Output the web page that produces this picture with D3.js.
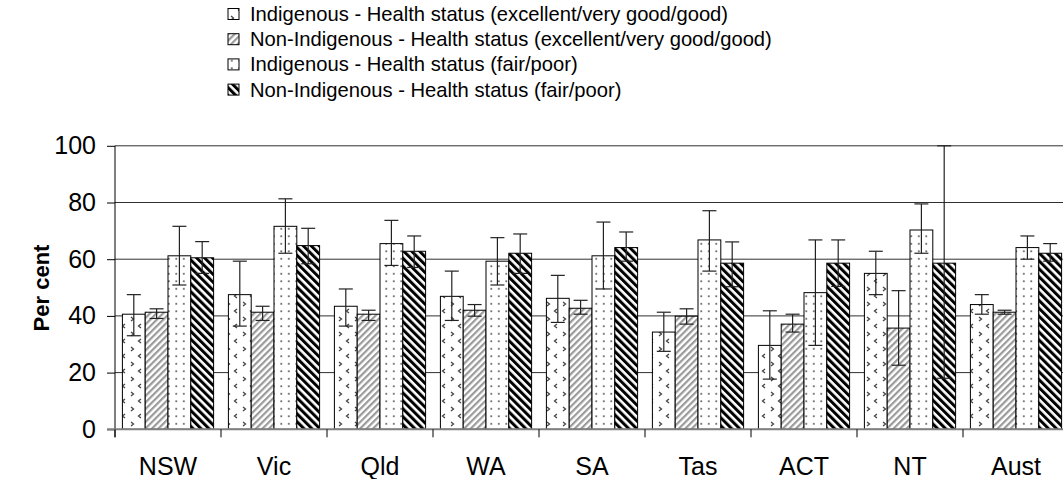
<!DOCTYPE html>
<html>
<head>
<meta charset="utf-8">
<script src="https://cdn.jsdelivr.net/npm/d3@7"></script>
<style>
  body { margin: 0; background: #fff; }
  svg { display: block; font-family: "Liberation Sans", Arial, sans-serif; }
</style>
</head>
<body>
<div id="chart"></div>
<script>
// categories and series
const states = ['NSW', 'Vic', 'Qld', 'WA', 'SA', 'Tas', 'ACT', 'NT', 'Aust'];
const seriesNames = [
  'Indigenous - Health status (excellent/very good/good)',
  'Non-Indigenous - Health status (excellent/very good/good)',
  'Indigenous - Health status (fair/poor)',
  'Non-Indigenous - Health status (fair/poor)'
];

// values and error bar ends (per cent)
const indigGood      = [40.6, 47.5, 43.4, 46.9, 46.2, 34.3, 29.6, 55.0, 44.0];
const indigGoodHi    = [47.5, 59.3, 49.5, 55.8, 54.3, 41.3, 41.8, 62.8, 47.5];
const indigGoodLo    = [33.0, 36.4, 36.4, 38.4, 37.7, 27.5, 17.7, 47.5, 40.6];
const nonIndigGood   = [41.3, 41.3, 40.6, 42.0, 42.7, 39.9, 37.1, 35.7, 41.3];
const nonIndigGoodHi = [42.5, 43.4, 42.0, 44.0, 45.5, 42.5, 40.6, 48.9, 42.0];
const nonIndigGoodLo = [39.1, 38.4, 38.4, 39.9, 40.6, 37.1, 34.3, 22.6, 40.6];
const indigFair      = [61.2, 71.6, 65.5, 59.3, 61.2, 66.8, 48.2, 70.3, 64.1];
const indigFairHi    = [71.6, 81.3, 73.7, 67.6, 73.1, 77.1, 66.8, 79.5, 68.2];
const indigFairLo    = [50.9, 62.1, 57.8, 50.9, 49.5, 55.8, 29.6, 62.1, 60.0];
const nonIndigFair   = [60.5, 64.8, 62.8, 62.1, 64.1, 58.6, 58.6, 58.6, 62.1];
const nonIndigFairHi = [66.2, 70.9, 68.2, 68.9, 69.6, 66.1, 66.8, 100, 65.5];
const nonIndigFairLo = [55.0, 58.4, 57.1, 55.0, 59.3, 50.3, 50.4, 18.0, 59.3];

const yTicks = [0, 20, 40, 60, 80, 100];

{ // start block scope

  const values = [indigGood, nonIndigGood, indigFair, nonIndigFair];
  const highs = [indigGoodHi, nonIndigGoodHi, indigFairHi, nonIndigFairHi];
  const lows = [indigGoodLo, nonIndigGoodLo, indigFairLo, nonIndigFairLo];

  const rows = [];
  states.forEach((s, i) => {
    seriesNames.forEach((n, k) => {
      rows.push({ state: s, series: k, v: values[k][i], hi: highs[k][i], lo: lows[k][i] });
    });
  });

  // constants
  const totalWidth = 1063;
  const totalHeight = 479;
  const plot = { left: 115, right: 1069, top: 145.8, bottom: 429.3 };

  const svg = d3.select('#chart')
    .append('svg')
    .attr('width', totalWidth)
    .attr('height', totalHeight);

  // patterns
  const defs = svg.append('defs');

  const p0 = defs.append('pattern')
    .attr('id', 'pat0')
    .attr('patternUnits', 'userSpaceOnUse')
    .attr('width', 16).attr('height', 15);
  p0.append('rect').attr('width', 16).attr('height', 15).attr('fill', '#fff');
  p0.append('path')
    .attr('d', 'M3,2 L5.5,4 L3,6 M13,9 L10.5,11 L13,13')
    .attr('fill', 'none').attr('stroke', '#444').attr('stroke-width', 1.3);

  const p1 = defs.append('pattern')
    .attr('id', 'pat1')
    .attr('patternUnits', 'userSpaceOnUse')
    .attr('width', 4.6).attr('height', 4.6)
    .attr('patternTransform', 'rotate(45)');
  p1.append('rect').attr('width', 4.6).attr('height', 4.6).attr('fill', '#fff');
  p1.append('rect').attr('width', 2.2).attr('height', 4.6).attr('fill', '#9a9a9a');

  const p2 = defs.append('pattern')
    .attr('id', 'pat2')
    .attr('patternUnits', 'userSpaceOnUse')
    .attr('width', 7.5).attr('height', 7.5);
  p2.append('rect').attr('width', 7.5).attr('height', 7.5).attr('fill', '#fff');
  p2.append('rect').attr('x', 3).attr('y', 3).attr('width', 1.6).attr('height', 1.6).attr('fill', '#444');

  const p3 = defs.append('pattern')
    .attr('id', 'pat3')
    .attr('patternUnits', 'userSpaceOnUse')
    .attr('width', 5.6).attr('height', 5.6)
    .attr('patternTransform', 'rotate(-45)');
  p3.append('rect').attr('width', 5.6).attr('height', 5.6).attr('fill', '#fff');
  p3.append('rect').attr('width', 3).attr('height', 5.6).attr('fill', '#000');

  // scales
  const x0 = d3.scaleBand().domain(states).range([plot.left, plot.right]);
  const x1 = d3.scaleBand().domain(d3.range(seriesNames.length))
    .range([7.4, x0.bandwidth() - 7.4]);
  const y = d3.scaleLinear().domain([0, 100]).range([plot.bottom, plot.top]);

  // gridlines
  svg.append('g')
    .selectAll('line')
    .data(yTicks.filter(t => t > 0))
    .join('line')
    .attr('x1', plot.left).attr('x2', plot.right)
    .attr('y1', d => y(d)).attr('y2', d => y(d))
    .attr('stroke', '#303030')
    .attr('stroke-width', 1);

  // bars
  svg.append('g')
    .selectAll('rect')
    .data(rows)
    .join('rect')
    .attr('x', d => x0(d.state) + x1(d.series))
    .attr('y', d => y(d.v))
    .attr('width', x1.bandwidth())
    .attr('height', d => y(0) - y(d.v))
    .attr('fill', d => `url(#pat${d.series})`)
    .attr('stroke', '#000')
    .attr('stroke-width', 1);

  // error bars
  const capHalf = 7;
  const err = svg.append('g')
    .attr('stroke', '#222')
    .attr('stroke-width', 1.2)
    .selectAll('g')
    .data(rows)
    .join('g')
    .attr('transform', d => `translate(${x0(d.state) + x1(d.series) + x1.bandwidth() / 2},0)`);
  err.append('line')
    .attr('y1', d => y(d.lo)).attr('y2', d => y(d.hi));
  err.append('line')
    .attr('x1', -capHalf).attr('x2', capHalf)
    .attr('y1', d => y(d.hi)).attr('y2', d => y(d.hi));
  err.append('line')
    .attr('x1', -capHalf).attr('x2', capHalf)
    .attr('y1', d => y(d.lo)).attr('y2', d => y(d.lo));

  // y axis
  const yAxis = d3.axisLeft(y).tickValues(yTicks).tickSize(8).tickPadding(11);
  const yAxisGroup = svg.append('g')
    .attr('transform', `translate(${plot.left},0)`)
    .call(yAxis);
  yAxisGroup.select('.domain').remove();
  yAxisGroup.selectAll('.tick line').attr('stroke', '#000');
  yAxisGroup.selectAll('.tick text')
    .attr('font-size', 25)
    .attr('fill', '#000')
    .attr('font-family', '"Liberation Sans", Arial, sans-serif');
  svg.append('line')
    .attr('x1', plot.left).attr('x2', plot.left)
    .attr('y1', plot.top).attr('y2', plot.bottom + 8)
    .attr('stroke', '#000');

  // x axis
  const xAxis = d3.axisBottom(x0).tickSize(0).tickPadding(28);
  const xAxisGroup = svg.append('g')
    .attr('transform', `translate(0,${plot.bottom})`)
    .call(xAxis);
  xAxisGroup.select('.domain').remove();
  xAxisGroup.selectAll('.tick text')
    .attr('font-size', 25)
    .attr('fill', '#000')
    .attr('font-family', '"Liberation Sans", Arial, sans-serif');
  svg.append('line')
    .attr('x1', plot.left - 8).attr('x2', plot.right)
    .attr('y1', plot.bottom).attr('y2', plot.bottom)
    .attr('stroke', '#808080')
    .attr('stroke-width', 2);
  svg.append('g')
    .selectAll('line')
    .data(states.slice(1).map(s => x0(s)).concat([plot.left]))
    .join('line')
    .attr('x1', d => d).attr('x2', d => d)
    .attr('y1', plot.bottom).attr('y2', plot.bottom + 8)
    .attr('stroke', '#000');

  // y title
  svg.append('text')
    .attr('transform', 'translate(49,288) rotate(-90)')
    .attr('text-anchor', 'middle')
    .attr('font-size', 22)
    .attr('font-weight', 'bold')
    .text('Per cent');

  // legend
  const legend = svg.append('g')
    .selectAll('g')
    .data(seriesNames)
    .join('g')
    .attr('transform', (d, i) => `translate(228,${14 + i * 25.2})`);
  legend.append('rect')
    .attr('x', 0).attr('y', -5.5)
    .attr('width', 11).attr('height', 11)
    .attr('fill', (d, i) => `url(#pat${i})`)
    .attr('stroke', '#000');
  legend.append('text')
    .attr('x', 22).attr('y', 7)
    .attr('font-size', 20.2)
    .text(d => d);

} // end block scope
</script>
</body>
</html>
